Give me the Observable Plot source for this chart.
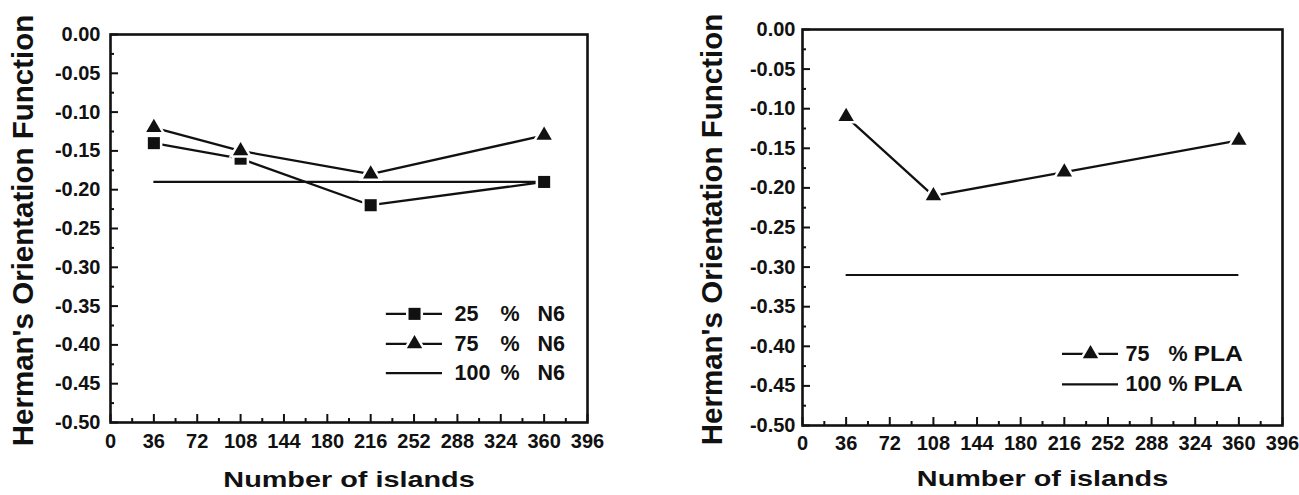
<!DOCTYPE html>
<html><head><meta charset="utf-8">
<script src="https://cdn.jsdelivr.net/npm/d3@7"></script>
<script src="https://cdn.jsdelivr.net/npm/@observablehq/plot@0.6"></script>
<style>
html,body{margin:0;padding:0;background:#fff;}
#wrap{display:flex;width:1299px;height:495px;overflow:hidden;}
#wrap svg{flex:none;}
</style></head><body><div id="wrap"></div>
<script>
// ---------- data ----------
const islands = [36, 108, 216, 360];
const n6_25  = [-0.14, -0.16, -0.22, -0.19];
const n6_75  = [-0.12, -0.15, -0.18, -0.13];
const n6_100 = -0.19;
const pla_75  = [-0.11, -0.21, -0.18, -0.14];
const pla_100 = -0.31;

const xTicks      = [0, 36, 72, 108, 144, 180, 216, 252, 288, 324, 360, 396];
const xMinorTicks = [18, 54, 90, 126, 162, 198, 234, 270, 306, 342, 378];
const yTicks      = [0, -0.05, -0.10, -0.15, -0.20, -0.25, -0.30, -0.35, -0.40, -0.45, -0.50];
const yMinorTicks = [-0.025, -0.075, -0.125, -0.175, -0.225, -0.275, -0.325, -0.375, -0.425, -0.475];

const xTitle = "Number of islands";
const yTitle = "Herman's Orientation Function";

const legendN6  = [{pct: "25", mat: "N6", symbol: "square"}, {pct: "75", mat: "N6", symbol: "triangle"}, {pct: "100", mat: "N6", symbol: null}];
const legendPLA = [{pct: "75", mat: "PLA", symbol: "triangle"}, {pct: "100", mat: "PLA", symbol: null}];

// ---------- style ----------
const ink = "#111111";
const font = "'Liberation Sans', Arial, Helvetica, sans-serif";
const symbolR = {square: 6.8, triangle: 5.7};

function toRows(xs, ys) { return xs.map((x, i) => ({x, y: ys[i]})); }

function stretch(svg, content, sx) {
  d3.select(svg).selectAll("text").filter(function() { return this.textContent === content; }).each(function() {
    const t = this.getAttribute("transform") || "";
    const x = +this.getAttribute("x") || 0, y = +this.getAttribute("y") || 0;
    this.setAttribute("transform", `${t} translate(${x},${y}) scale(${sx},1) translate(${-x},${-y})`);
  });
}

function panel(cfg) {
  const marks = [
    Plot.axisX(xMinorTicks, {tickSize: -4, tickFormat: () => "", stroke: ink, strokeWidth: 2, label: null}),
    Plot.axisX(xTicks, {tickSize: -8, tickPadding: cfg.xPad, stroke: ink, fill: ink, strokeWidth: 2, fontSize: 20, label: null, tickFormat: d => String(d)}),
    Plot.axisY(yMinorTicks, {tickSize: -4, tickFormat: () => "", stroke: ink, strokeWidth: 2, label: null}),
    Plot.axisY(yTicks, {tickSize: -8, tickPadding: cfg.yPad, stroke: ink, fill: ink, strokeWidth: 2, fontSize: 20, label: null, tickFormat: d => d.toFixed(2)}),
    Plot.frame({stroke: ink, strokeWidth: 2.6}),
    Plot.ruleY([cfg.ref], {y: d => d, x1: islands[0], x2: islands[islands.length - 1], stroke: ink, strokeWidth: 2.2})
  ];
  for (const s of cfg.series) {
    const rows = toRows(islands, s.values);
    marks.push(Plot.line(rows, {x: "x", y: "y", stroke: ink, strokeWidth: 2.3}));
    marks.push(Plot.dot(rows, {x: "x", y: "y", symbol: s.symbol, r: symbolR[s.symbol], fill: ink, stroke: "white", strokeWidth: 5, paintOrder: "stroke"}));
  }
  // legend
  const L = cfg.legend;
  L.rows.forEach((d, i) => {
    const y = L.ys[i];
    marks.push(Plot.ruleY([y], {y: v => v, x1: L.x1, x2: L.x2, stroke: ink, strokeWidth: 2.3}));
    if (d.symbol) marks.push(Plot.dot([y], {x: L.xm, y: v => v, symbol: d.symbol, r: symbolR[d.symbol], fill: ink, stroke: "white", strokeWidth: 5, paintOrder: "stroke"}));
    marks.push(Plot.text([d], {x: L.xt, y: () => y, text: r => r.pct, textAnchor: "start", lineAnchor: "middle", fontSize: 21.5, fill: ink}));
    marks.push(Plot.text([d], {x: L.xt, y: () => y, text: () => "%", dx: L.pctDx, textAnchor: "start", lineAnchor: "middle", fontSize: 21.5, fill: ink}));
    marks.push(Plot.text([d], {x: L.xt, y: () => y, text: r => r.mat, dx: L.matDx, textAnchor: "start", lineAnchor: "middle", fontSize: 21.5, fill: ink}));
  });
  // axis titles
  marks.push(Plot.text([xTitle], {text: d => d, frameAnchor: "bottom", textAnchor: "middle", lineAnchor: "top", dy: cfg.xTitleDy, fontSize: 22, fill: ink}));
  marks.push(Plot.text([yTitle], {text: d => d, frameAnchor: "left", textAnchor: "middle", rotate: -90, lineAnchor: "middle", dx: cfg.yTitleDx, dy: 2, fontSize: 29.5, fill: ink}));

  const svg = Plot.plot({
    width: cfg.width, height: 495,
    marginLeft: cfg.ml, marginRight: cfg.mr, marginTop: cfg.mt, marginBottom: cfg.mb,
    x: {domain: [0, 396], label: null},
    y: {domain: [-0.5, 0], label: null},
    style: {fontFamily: font, fontWeight: "bold", fontSize: "20px", color: ink, background: "white", overflow: "visible"},
    marks
  });
  // the original artwork is horizontally stretched for these texts
  stretch(svg, xTitle, 1.31);
  if (cfg.matStretch) stretch(svg, cfg.legend.rows[0].mat, cfg.matStretch);
  return svg;
}

const wrap = document.getElementById("wrap");
wrap.appendChild(panel({
  width: 650, ml: 110, mr: 63, mt: 34, mb: 73, xPad: 19, yPad: 18,
  xTitleDy: 49, yTitleDx: -87, ref: n6_100,
  series: [{values: n6_25, symbol: "square"}, {values: n6_75, symbol: "triangle"}],
  legend: {rows: legendN6, ys: [-0.360, -0.3986, -0.4365], x1: 229, x2: 275.6, xm: 252.4, xt: 285.6, pctDx: 46, matDx: 83}
}));
wrap.appendChild(panel({
  width: 649, ml: 152, mr: 17, mt: 29, mb: 70, xPad: 18, yPad: 15,
  xTitleDy: 45, yTitleDx: -90, ref: pla_100, matStretch: 1.15,
  series: [{values: pla_75, symbol: "triangle"}],
  legend: {rows: legendPLA, ys: [-0.4095, -0.448], x1: 214.5, x2: 260.7, xm: 237.6, xt: 266.5, pctDx: 43, matDx: 68}
}));
</script>
</body></html>
